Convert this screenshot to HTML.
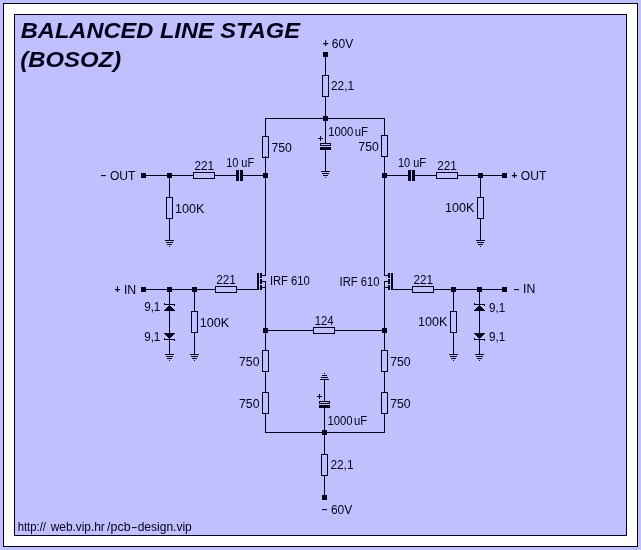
<!DOCTYPE html>
<html lang="en">
<head>
<meta charset="utf-8">
<title>Balanced Line Stage (BOSOZ)</title>
<style>
html,body{margin:0;padding:0;background:#c0c0ff;}
body{width:641px;height:550px;overflow:hidden;position:relative;font-family:"Liberation Sans",Arial,sans-serif;}
#frame{position:absolute;left:3px;top:3px;width:633px;height:542px;border:1px solid #000018;background:#fff;}
#sheet{position:absolute;left:10px;top:10px;width:611px;height:520px;border:1px solid #000018;background:#c0c0ff;}
svg{position:absolute;left:0;top:0;will-change:transform;}
svg rect,svg polygon{fill:#000018;shape-rendering:crispEdges;}
svg rect.o{fill:none;stroke:#000018;stroke-width:1;}
svg text{font-family:"Liberation Sans",Arial,sans-serif;font-size:12px;fill:#000018;}
svg tspan.s{font-size:10px;font-weight:bold;}
svg text.t{font-style:italic;font-weight:bold;font-size:21.4px;}
</style>
</head>
<body>
<div id="frame"><div id="sheet"></div></div>
<svg width="641" height="550" viewBox="0 0 641 550">
<text x="20.78" y="38.2" font-size="21.4" class="t" textLength="279.13" lengthAdjust="spacingAndGlyphs">BALANCED LINE STAGE</text>
<text x="20.34" y="66.6" font-size="21.4" class="t" textLength="100.76" lengthAdjust="spacingAndGlyphs">(BOSOZ)</text>
<text x="322.66" y="48" textLength="30.52" lengthAdjust="spacingAndGlyphs"><tspan class="s" dy="-1.17">+</tspan><tspan dy="1.17"> 60V</tspan></text>
<rect x="323" y="52" width="5" height="5"/>
<rect x="325" y="54" width="1" height="22"/>
<rect x="322.5" y="75.5" width="6" height="21" class="o"/>
<text x="331.03" y="90" textLength="23.13" lengthAdjust="spacingAndGlyphs">22,1</text>
<rect x="325" y="96" width="1" height="48"/>
<rect x="323" y="116" width="5" height="5"/>
<rect x="265" y="118" width="120" height="1"/>
<text x="328.16" y="136" textLength="39.87" lengthAdjust="spacingAndGlyphs">100<tspan letter-spacing="1.5">0</tspan>uF</text>
<rect x="318" y="138" width="5" height="1"/>
<rect x="320" y="136" width="1" height="5"/>
<rect x="320.5" y="143.5" width="10" height="2" class="o"/>
<rect x="320" y="147" width="11" height="3"/>
<rect x="325" y="150" width="1" height="22"/>
<rect x="321" y="171" width="9" height="1"/>
<rect x="322" y="173" width="7" height="1"/>
<rect x="323" y="175" width="5" height="1"/>
<rect x="325" y="177" width="1" height="1"/>
<rect x="265" y="118" width="1" height="19"/>
<rect x="262.5" y="136.5" width="6" height="21" class="o"/>
<text x="271.4" y="152" textLength="20.46" lengthAdjust="spacingAndGlyphs">750</text>
<rect x="265" y="156" width="1" height="120"/>
<rect x="263" y="173" width="5" height="5"/>
<rect x="384" y="118" width="1" height="18"/>
<rect x="381.5" y="135.5" width="6" height="21" class="o"/>
<text x="358.35" y="151" textLength="20.46" lengthAdjust="spacingAndGlyphs">750</text>
<rect x="384" y="156" width="1" height="120"/>
<rect x="382" y="173" width="5" height="5"/>
<text x="100.66" y="180" textLength="34.75" lengthAdjust="spacingAndGlyphs"><tspan class="s" dy="-1.17">−</tspan><tspan dy="1.17"> OUT</tspan></text>
<rect x="141" y="173" width="5" height="5"/>
<rect x="143" y="175" width="51" height="1"/>
<rect x="167" y="173" width="5" height="5"/>
<rect x="193.5" y="172.5" width="21" height="6" class="o"/>
<text x="194.51" y="170" textLength="19.67" lengthAdjust="spacingAndGlyphs">221</text>
<rect x="214" y="175" width="23" height="1"/>
<rect x="236" y="170" width="3" height="11"/>
<rect x="240" y="170" width="3" height="11"/>
<rect x="242" y="175" width="24" height="1"/>
<text x="226.14" y="167" textLength="28.02" lengthAdjust="spacingAndGlyphs">10 uF</text>
<rect x="169" y="175" width="1" height="23"/>
<rect x="166.5" y="197.5" width="6" height="21" class="o"/>
<text x="174.98" y="213" textLength="29.43" lengthAdjust="spacingAndGlyphs">100K</text>
<rect x="169" y="218" width="1" height="23"/>
<rect x="165" y="240" width="9" height="1"/>
<rect x="166" y="242" width="7" height="1"/>
<rect x="167" y="244" width="5" height="1"/>
<rect x="169" y="246" width="1" height="1"/>
<rect x="384" y="175" width="25" height="1"/>
<rect x="408" y="170" width="3" height="11"/>
<rect x="412" y="170" width="3" height="11"/>
<text x="397.99" y="167" textLength="28.02" lengthAdjust="spacingAndGlyphs">10 uF</text>
<rect x="414" y="175" width="23" height="1"/>
<rect x="436.5" y="172.5" width="21" height="6" class="o"/>
<text x="437.21" y="170" textLength="19.67" lengthAdjust="spacingAndGlyphs">221</text>
<rect x="457" y="175" width="48" height="1"/>
<rect x="478" y="173" width="5" height="5"/>
<rect x="502" y="173" width="5" height="5"/>
<text x="511.6" y="180" textLength="34.75" lengthAdjust="spacingAndGlyphs"><tspan class="s" dy="-1.17">+</tspan><tspan dy="1.17"> OUT</tspan></text>
<rect x="480" y="175" width="1" height="23"/>
<rect x="477.5" y="197.5" width="6" height="21" class="o"/>
<text x="444.93" y="212" textLength="29.43" lengthAdjust="spacingAndGlyphs">100K</text>
<rect x="480" y="218" width="1" height="23"/>
<rect x="476" y="240" width="9" height="1"/>
<rect x="477" y="242" width="7" height="1"/>
<rect x="478" y="244" width="5" height="1"/>
<rect x="480" y="246" width="1" height="1"/>
<rect x="257" y="273" width="2" height="17"/>
<rect x="260" y="273" width="2" height="5"/>
<rect x="260" y="279" width="2" height="5"/>
<rect x="260" y="285" width="2" height="5"/>
<rect x="262" y="275" width="4" height="1"/>
<rect x="262" y="281" width="4" height="1"/>
<rect x="262" y="287" width="4" height="1"/>
<rect x="265" y="281" width="1" height="50"/>
<rect x="391" y="273" width="2" height="17"/>
<rect x="388" y="273" width="2" height="5"/>
<rect x="388" y="279" width="2" height="5"/>
<rect x="388" y="285" width="2" height="5"/>
<rect x="384" y="275" width="4" height="1"/>
<rect x="384" y="281" width="4" height="1"/>
<rect x="384" y="287" width="4" height="1"/>
<rect x="384" y="281" width="1" height="50"/>
<text x="269.89" y="285" textLength="39.92" lengthAdjust="spacingAndGlyphs">IRF 610</text>
<text x="339.54" y="286" textLength="39.92" lengthAdjust="spacingAndGlyphs">IRF 610</text>
<text x="114.5" y="294" textLength="21.68" lengthAdjust="spacingAndGlyphs"><tspan class="s" dy="-1.17">+</tspan><tspan dy="1.17"> IN</tspan></text>
<rect x="141" y="287" width="5" height="5"/>
<rect x="143" y="289" width="73" height="1"/>
<rect x="167" y="287" width="5" height="5"/>
<rect x="192" y="287" width="5" height="5"/>
<rect x="215.5" y="286.5" width="21" height="6" class="o"/>
<text x="216.21" y="284" textLength="19.67" lengthAdjust="spacingAndGlyphs">221</text>
<rect x="236" y="289" width="22" height="1"/>
<rect x="169" y="289" width="1" height="66"/>
<rect x="164" y="304" width="11" height="1"/>
<rect x="164" y="303" width="1" height="2"/>
<rect x="174" y="304" width="1" height="2"/>
<rect x="169" y="305" width="1" height="1"/>
<rect x="168" y="306" width="3" height="1"/>
<rect x="167" y="307" width="5" height="1"/>
<rect x="166" y="308" width="7" height="1"/>
<rect x="165" y="309" width="9" height="1"/>
<rect x="164" y="310" width="11" height="1"/>
<rect x="164" y="333" width="11" height="1"/>
<rect x="165" y="334" width="9" height="1"/>
<rect x="166" y="335" width="7" height="1"/>
<rect x="167" y="336" width="5" height="1"/>
<rect x="168" y="337" width="3" height="1"/>
<rect x="169" y="338" width="1" height="1"/>
<rect x="164" y="339" width="11" height="1"/>
<rect x="164" y="338" width="1" height="2"/>
<rect x="174" y="339" width="1" height="2"/>
<rect x="165" y="354" width="9" height="1"/>
<rect x="166" y="356" width="7" height="1"/>
<rect x="167" y="358" width="5" height="1"/>
<rect x="169" y="360" width="1" height="1"/>
<text x="144.15" y="311" textLength="16.22" lengthAdjust="spacingAndGlyphs">9,1</text>
<text x="144.15" y="341" textLength="16.22" lengthAdjust="spacingAndGlyphs">9,1</text>
<rect x="194" y="289" width="1" height="23"/>
<rect x="191.5" y="311.5" width="6" height="21" class="o"/>
<rect x="194" y="332" width="1" height="23"/>
<rect x="190" y="354" width="9" height="1"/>
<rect x="191" y="356" width="7" height="1"/>
<rect x="192" y="358" width="5" height="1"/>
<rect x="194" y="360" width="1" height="1"/>
<text x="199.83" y="327" textLength="29.43" lengthAdjust="spacingAndGlyphs">100K</text>
<rect x="393" y="289" width="20" height="1"/>
<rect x="412.5" y="286.5" width="21" height="6" class="o"/>
<text x="413.41" y="284" textLength="19.67" lengthAdjust="spacingAndGlyphs">221</text>
<rect x="433" y="289" width="72" height="1"/>
<rect x="451" y="287" width="5" height="5"/>
<rect x="477" y="287" width="5" height="5"/>
<rect x="502" y="287" width="5" height="5"/>
<text x="513.65" y="293" textLength="21.68" lengthAdjust="spacingAndGlyphs"><tspan class="s" dy="-0.17">−</tspan><tspan dy="0.17"> IN</tspan></text>
<rect x="479" y="289" width="1" height="66"/>
<rect x="474" y="304" width="11" height="1"/>
<rect x="474" y="303" width="1" height="2"/>
<rect x="484" y="304" width="1" height="2"/>
<rect x="479" y="305" width="1" height="1"/>
<rect x="478" y="306" width="3" height="1"/>
<rect x="477" y="307" width="5" height="1"/>
<rect x="476" y="308" width="7" height="1"/>
<rect x="475" y="309" width="9" height="1"/>
<rect x="474" y="310" width="11" height="1"/>
<rect x="474" y="333" width="11" height="1"/>
<rect x="475" y="334" width="9" height="1"/>
<rect x="476" y="335" width="7" height="1"/>
<rect x="477" y="336" width="5" height="1"/>
<rect x="478" y="337" width="3" height="1"/>
<rect x="479" y="338" width="1" height="1"/>
<rect x="474" y="339" width="11" height="1"/>
<rect x="474" y="338" width="1" height="2"/>
<rect x="484" y="339" width="1" height="2"/>
<rect x="475" y="354" width="9" height="1"/>
<rect x="476" y="356" width="7" height="1"/>
<rect x="477" y="358" width="5" height="1"/>
<rect x="479" y="360" width="1" height="1"/>
<text x="489.05" y="312" textLength="16.22" lengthAdjust="spacingAndGlyphs">9,1</text>
<text x="489.05" y="341" textLength="16.22" lengthAdjust="spacingAndGlyphs">9,1</text>
<rect x="453" y="289" width="1" height="23"/>
<rect x="450.5" y="311.5" width="6" height="21" class="o"/>
<rect x="453" y="332" width="1" height="23"/>
<rect x="449" y="354" width="9" height="1"/>
<rect x="450" y="356" width="7" height="1"/>
<rect x="451" y="358" width="5" height="1"/>
<rect x="453" y="360" width="1" height="1"/>
<text x="418.03" y="326" textLength="29.43" lengthAdjust="spacingAndGlyphs">100K</text>
<rect x="263" y="328" width="5" height="5"/>
<rect x="382" y="328" width="5" height="5"/>
<rect x="265" y="330" width="49" height="1"/>
<rect x="313.5" y="327.5" width="21" height="6" class="o"/>
<rect x="334" y="330" width="51" height="1"/>
<text x="314.64" y="325" textLength="18.89" lengthAdjust="spacingAndGlyphs">124</text>
<rect x="265" y="330" width="1" height="21"/>
<rect x="262.5" y="350.5" width="6" height="21" class="o"/>
<rect x="265" y="371" width="1" height="22"/>
<rect x="262.5" y="392.5" width="6" height="21" class="o"/>
<rect x="265" y="413" width="1" height="20"/>
<text x="239.05" y="366" textLength="20.46" lengthAdjust="spacingAndGlyphs">750</text>
<text x="239.05" y="408" textLength="20.46" lengthAdjust="spacingAndGlyphs">750</text>
<rect x="384" y="330" width="1" height="21"/>
<rect x="381.5" y="350.5" width="6" height="21" class="o"/>
<rect x="384" y="371" width="1" height="22"/>
<rect x="381.5" y="392.5" width="6" height="21" class="o"/>
<rect x="384" y="413" width="1" height="20"/>
<text x="390.15" y="366" textLength="20.46" lengthAdjust="spacingAndGlyphs">750</text>
<text x="390.15" y="408" textLength="20.46" lengthAdjust="spacingAndGlyphs">750</text>
<rect x="265" y="432" width="120" height="1"/>
<rect x="322" y="430" width="5" height="5"/>
<rect x="320" y="379" width="9" height="1"/>
<rect x="321" y="377" width="7" height="1"/>
<rect x="322" y="375" width="5" height="1"/>
<rect x="324" y="373" width="1" height="1"/>
<rect x="324" y="379" width="1" height="23"/>
<rect x="317" y="396" width="5" height="1"/>
<rect x="319" y="394" width="1" height="5"/>
<rect x="319.5" y="401.5" width="10" height="2" class="o"/>
<rect x="319" y="405" width="11" height="3"/>
<rect x="324" y="408" width="1" height="47"/>
<text x="327.41" y="425" textLength="39.87" lengthAdjust="spacingAndGlyphs">100<tspan letter-spacing="1.5">0</tspan>uF</text>
<rect x="321.5" y="454.5" width="6" height="21" class="o"/>
<text x="330.38" y="469" textLength="23.13" lengthAdjust="spacingAndGlyphs">22,1</text>
<rect x="324" y="475" width="1" height="23"/>
<rect x="322" y="495" width="5" height="5"/>
<text x="321.71" y="514" textLength="30.52" lengthAdjust="spacingAndGlyphs"><tspan class="s" dy="-1.17">−</tspan><tspan dy="1.17"> 60V</tspan></text>
<text class="u" y="530.8" font-size="12.6"><tspan class="u" x="17.68" textLength="28.32" lengthAdjust="spacingAndGlyphs">http://</tspan><tspan class="u" x="50.72" textLength="54.09" lengthAdjust="spacingAndGlyphs">web.vip.hr</tspan><tspan class="u" x="107.1" textLength="23.45" lengthAdjust="spacingAndGlyphs">/pcb</tspan><tspan class="u" x="131.09" textLength="6.53" lengthAdjust="spacingAndGlyphs">-</tspan><tspan class="u" x="137.67" textLength="54.16" lengthAdjust="spacingAndGlyphs">design.vip</tspan></text>
</svg>
</body>
</html>
